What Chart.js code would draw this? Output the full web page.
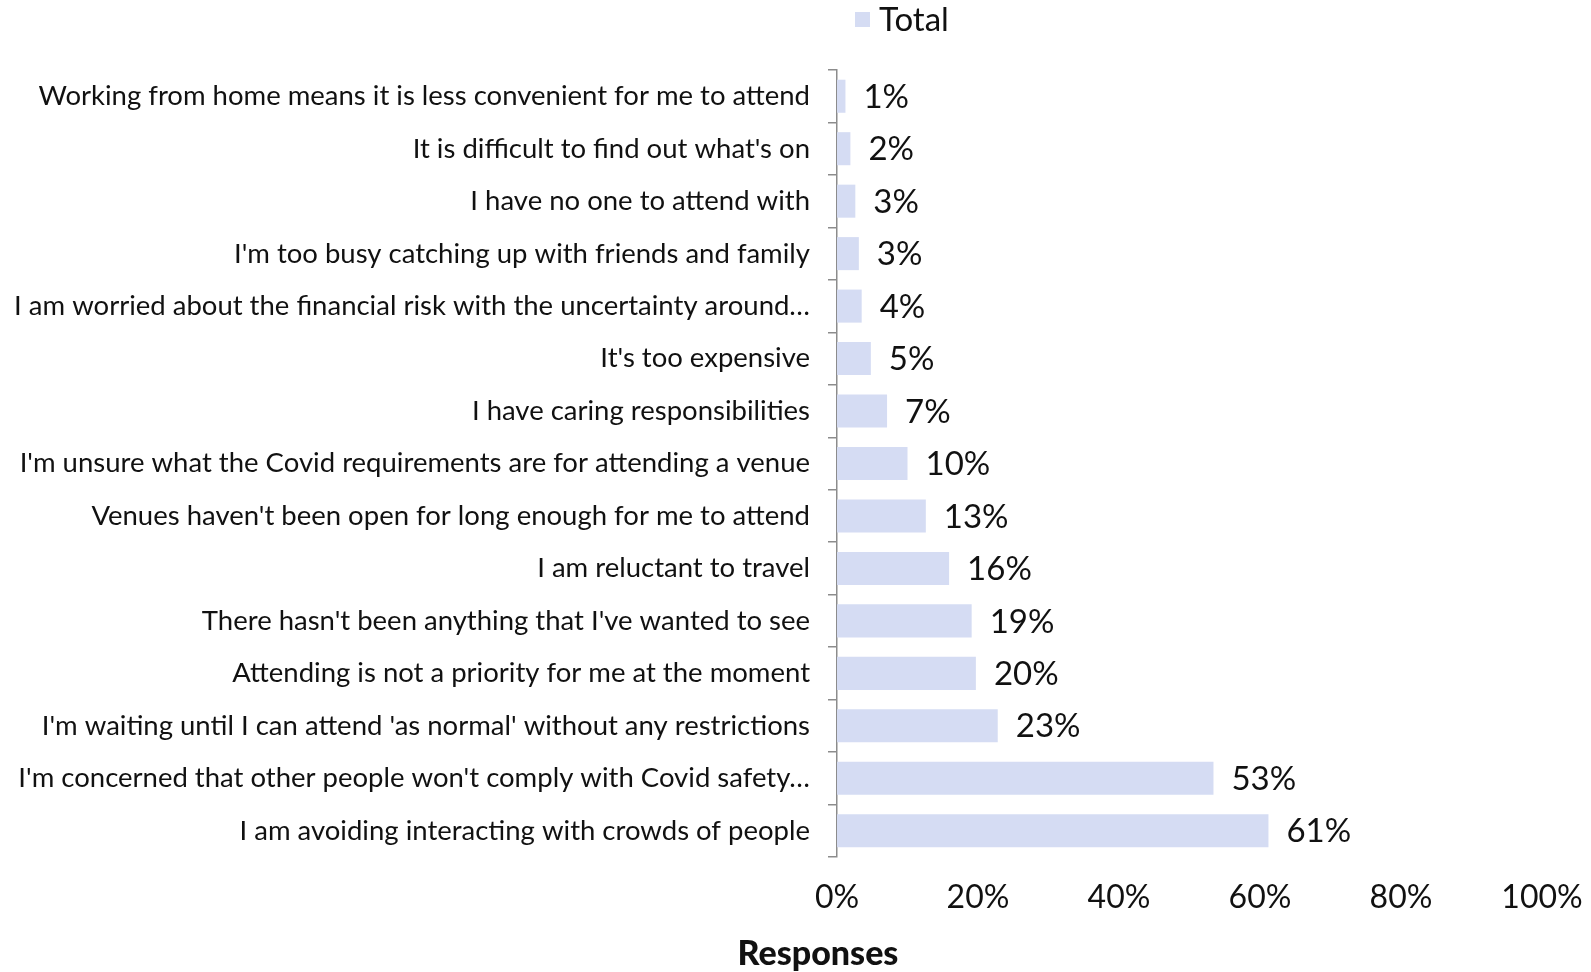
<!DOCTYPE html>
<html>
<head>
<meta charset="utf-8">
<script src="https://cdn.jsdelivr.net/npm/chart.js@4"></script>
<style>
html,body{margin:0;padding:0;background:#fff;}
#wrap{width:1591px;height:972px;position:relative;}
</style>
</head>
<body>
<div id="wrap"><canvas id="c" width="1591" height="972"></canvas></div>
<script>
const categories = [
  "Working from home means it is less convenient for me to attend",
  "It is difficult to find out what's on",
  "I have no one to attend with",
  "I'm too busy catching up with friends and family",
  "I am worried about the financial risk with the uncertainty around\u2026",
  "It's too expensive",
  "I have caring responsibilities",
  "I'm unsure what the Covid requirements are for attending a venue",
  "Venues haven't been open for long enough for me to attend",
  "I am reluctant to travel",
  "There hasn't been anything that I've wanted to see",
  "Attending is not a priority for me at the moment",
  "I'm waiting until I can attend 'as normal' without any restrictions",
  "I'm concerned that other people won't comply with Covid safety\u2026",
  "I am avoiding interacting with crowds of people"
];
const totalValues = [1.2, 1.9, 2.6, 3.1, 3.5, 4.8, 7.1, 10.0, 12.6, 15.9, 19.1, 19.7, 22.8, 53.4, 61.2];
const xTicks = [0, 20, 40, 60, 80, 100];
const seriesName = "Total";
const axisTitle = "Responses";

const FONT = "Lato, 'Open Sans', sans-serif";
const BAR = "#d5dcf3";
const TXT = "#111111";

const dataLabels = {
  id: 'dataLabels',
  afterDatasetsDraw(chart) {
    const ctx = chart.ctx;
    const meta = chart.getDatasetMeta(0);
    ctx.save();
    ctx.font = "33px " + FONT;
    ctx.fillStyle = TXT;
    ctx.textBaseline = 'middle';
    ctx.textAlign = 'left';
    meta.data.forEach((bar, i) => {
      ctx.fillText(Math.round(chart.data.datasets[0].data[i]) + '%', bar.x + 18, bar.y + 1);
    });
    ctx.restore();
  }
};

const extras = {
  id: 'extras',
  afterDraw(chart) {
    const ctx = chart.ctx;
    ctx.save();
    // legend
    ctx.fillStyle = BAR;
    ctx.fillRect(855, 12, 15, 15);
    ctx.fillStyle = TXT;
    ctx.font = "33px " + FONT;
    ctx.textBaseline = 'middle';
    ctx.textAlign = 'left';
    ctx.fillText(chart.data.datasets[0].label, 879, 20);
    // axis title
    ctx.font = "900 34px " + FONT;
    ctx.textAlign = 'center';
    ctx.fillText(axisTitle, 818, 954);
    ctx.restore();
  }
};

new Chart(document.getElementById('c'), {
  type: 'bar',
  data: {
    labels: categories,
    datasets: [{
      label: seriesName,
      data: totalValues,
      backgroundColor: BAR,
      borderWidth: 0,
      barPercentage: 0.63,
      categoryPercentage: 1.0
    }]
  },
  options: {
    indexAxis: 'y',
    responsive: false,
    animation: false,
    layout: { padding: { top: 70, right: 49, bottom: 0, left: 0 } },
    plugins: {
      legend: { display: false },
      tooltip: { enabled: false }
    },
    scales: {
      x: {
        min: 0, max: 100,
        afterBuildTicks(scale) { scale.ticks = xTicks.map(v => ({ value: v })); },
        afterFit(scale) { scale.height = 115; scale.paddingRight = 0; scale.paddingLeft = 0; },
        grid: { display: false, drawTicks: false },
        border: { display: false },
        ticks: {
          padding: 21,
          color: TXT,
          font: { family: FONT, size: 32 },
          callback: v => v + '%'
        }
      },
      y: {
        afterFit(scale) { scale.width = 837; scale.paddingTop = 0; scale.paddingBottom = 0; },
        grid: {
          offset: true,
          drawOnChartArea: false,
          drawTicks: true,
          tickLength: 9,
          color: '#8c8c8c',
          lineWidth: 1.5
        },
        border: { display: true, color: '#8c8c8c', width: 1.5 },
        ticks: {
          padding: 18,
          color: TXT,
          font: { family: FONT, size: 27.5 },
          autoSkip: false
        }
      }
    }
  },
  plugins: [dataLabels, extras]
});
</script>
</body>
</html>
